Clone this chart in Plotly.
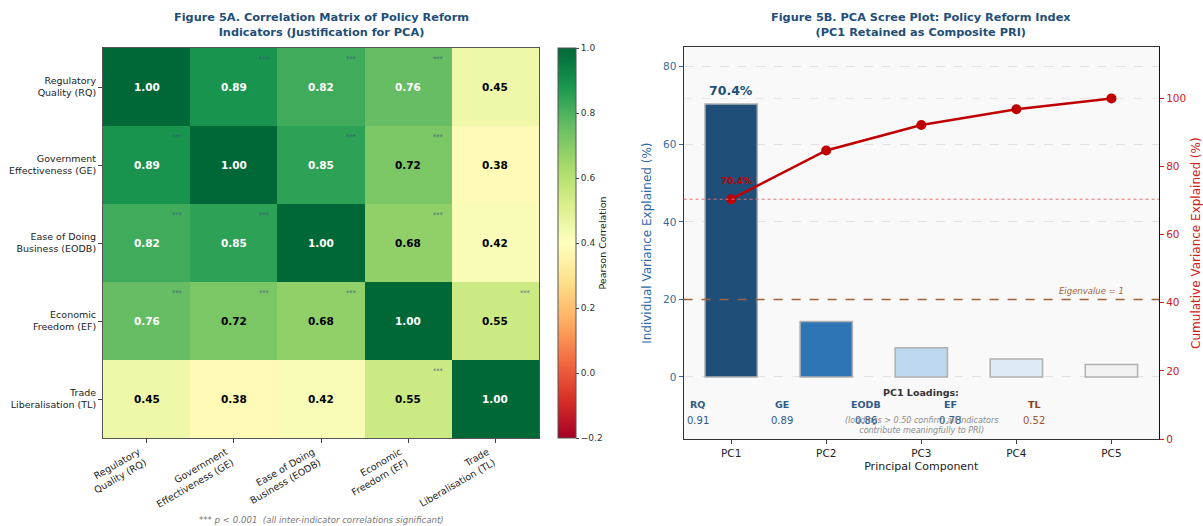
import plotly.graph_objects as go

# ---- Figure 5A data: correlation matrix of policy reform indicators ----
indicator_labels = [
    "Regulatory<br>Quality (RQ)",
    "Government<br>Effectiveness (GE)",
    "Ease of Doing<br>Business (EODB)",
    "Economic<br>Freedom (EF)",
    "Trade<br>Liberalisation (TL)",
]
corr_rq = [1.00, 0.89, 0.82, 0.76, 0.45]
corr_ge = [0.89, 1.00, 0.85, 0.72, 0.38]
corr_eodb = [0.82, 0.85, 1.00, 0.68, 0.42]
corr_ef = [0.76, 0.72, 0.68, 1.00, 0.55]
corr_tl = [0.45, 0.38, 0.42, 0.55, 1.00]
corr_matrix = [corr_rq, corr_ge, corr_eodb, corr_ef, corr_tl]
cbar_ticks = [-0.2, 0.0, 0.2, 0.4, 0.6, 0.8, 1.0]

# ---- Figure 5B data: PCA scree plot ----
components = ["PC1", "PC2", "PC3", "PC4", "PC5"]
indiv_var = [70.4, 14.3, 7.5, 4.6, 3.2]
cum_var = [70.4, 84.7, 92.2, 96.8, 100.0]
loading_codes = ["RQ", "GE", "EODB", "EF", "TL"]
loading_vals = [0.91, 0.89, 0.86, 0.78, 0.52]
eigen_one_pct = 20

bar_colors = ["#1f4e79", "#2e75b6", "#bdd7ee", "#deebf7", "#f2f2f2"]
title_color = "#1f4e79"
font_family = "DejaVu Sans"

W, H = 1203, 526

fig = go.Figure()

# Heatmap
n = len(indicator_labels)
fig.add_trace(go.Heatmap(
    z=corr_matrix,
    x=list(range(n)), y=list(range(n)),
    colorscale="RdYlGn", zmin=-0.2, zmax=1.0,
    xaxis="x", yaxis="y",
    hoverinfo="skip",
    colorbar=dict(
        x=558 / W, xanchor="left", xpad=0, ypad=0,
        y=1 - (48 + 438) / 2 / H, yanchor="middle",
        len=(438 - 48) / H, lenmode="fraction", thickness=18,
        outlinewidth=1, outlinecolor="#555",
        tickvals=cbar_ticks, ticktext=[f"{t:.1f}".replace("-", "\u2212") for t in cbar_ticks],
        ticks="outside", ticklen=3, tickcolor="#444",
        tickfont=dict(size=9, color="#333", family=font_family),
        title=dict(text="Pearson Correlation", side="right",
                   font=dict(size=9.5, color="#222", family=font_family)),
    ),
))

annotations = []
for i, row in enumerate(corr_matrix):
    for j, v in enumerate(row):
        annotations.append(dict(
            x=j, y=i, xref="x", yref="y", text=f"<b>{v:.2f}</b>", showarrow=False,
            xanchor="center", yanchor="middle",
            font=dict(size=10.5, color="white" if v > 0.75 else "black", family=font_family),
        ))
        if i != j and v > 0.5:
            annotations.append(dict(
                x=j + 0.35, y=i - 0.36, xref="x", yref="y", text="***", showarrow=False,
                xanchor="center", yanchor="middle",
                font=dict(size=6.5, color="#3b5a80", family=font_family),
            ))

# Scree bars
fig.add_trace(go.Bar(
    x=list(range(len(components))), y=indiv_var, width=0.55,
    marker=dict(color=bar_colors, line=dict(color="#b0b0b0", width=1.5)),
    xaxis="x2", yaxis="y2", hoverinfo="skip", showlegend=False,
))

# Cumulative variance line
fig.add_trace(go.Scatter(
    x=list(range(len(components))), y=cum_var, mode="lines+markers",
    line=dict(color="#c00000", width=2.5), marker=dict(color="#c00000", size=10),
    xaxis="x2", yaxis="y3", hoverinfo="skip", showlegend=False,
))

shapes = [
    # eigenvalue = 1 threshold
    dict(type="line", xref="x2 domain", yref="y2", x0=0, x1=1, y0=eigen_one_pct, y1=eigen_one_pct,
         line=dict(color="#a0643c", width=1.5, dash="dash")),
    # PC1 cumulative reference
    dict(type="line", xref="x2 domain", yref="y3", x0=0, x1=1, y0=cum_var[0], y1=cum_var[0],
         line=dict(color="#e07070", width=1, dash="dot")),
    dict(type="line", xref="x2 domain", yref="y3", x0=0, x1=1, y0=100, y1=100,
         line=dict(color="#e2e2e2", width=0.8, dash="dash"), layer="below"),
]

annotations += [
    dict(x=0, y=indiv_var[0], xref="x2", yref="y2", text=f"<b>{indiv_var[0]:.1f}%</b>",
         showarrow=False, xanchor="center", yanchor="bottom", yshift=4,
         font=dict(size=12.5, color=title_color, family=font_family)),
    dict(x=0, y=cum_var[0], xref="x2", yref="y3", text=f"<b>{cum_var[0]:.1f}%</b>",
         showarrow=False, xanchor="center", yanchor="bottom", xshift=5, yshift=11,
         font=dict(size=9, color="#c00000", family=font_family)),
    dict(x=0.93, y=eigen_one_pct, xref="x2 domain", yref="y2", text="<i>Eigenvalue = 1</i>",
         showarrow=False, xanchor="right", yanchor="bottom", yshift=1,
         font=dict(size=8.5, color="#a0643c", family=font_family)),
    dict(x=0.5, y=-4.1, xref="x2 domain", yref="y2", text="<b>PC1 Loadings:</b>",
         showarrow=False, xanchor="center", yanchor="middle",
         font=dict(size=9.5, color="#333", family=font_family)),
    dict(x=0.5, y=-12.4, xref="x2 domain", yref="y2",
         text="<i>(loadings > 0.50 confirm all indicators<br>contribute meaningfully to PRI)</i>",
         showarrow=False, xanchor="center", yanchor="middle",
         font=dict(size=8, color="#8a8a8a", family=font_family)),
]
for k, (code, val) in enumerate(zip(loading_codes, loading_vals)):
    is_last = k == len(loading_codes) - 1
    name_col = "#8b4513" if is_last else "#2f5a88"
    val_col = "#a0522d" if is_last else "#2f5a88"
    xf = 0.03 + 0.177 * k
    annotations.append(dict(x=xf, y=-7.0, xref="x2 domain", yref="y2", text=f"<b>{code}</b>",
                            showarrow=False, xanchor="center", yanchor="middle",
                            font=dict(size=9.5, color=name_col, family=font_family)))
    annotations.append(dict(x=xf, y=-11.1, xref="x2 domain", yref="y2", text=f"{val:.2f}",
                            showarrow=False, xanchor="center", yanchor="middle",
                            font=dict(size=10, color=val_col, family=font_family)))

# Panel titles and footnote
annotations += [
    dict(x=321 / W, y=1 - 25 / H, xref="paper", yref="paper",
         text="<b>Figure 5A. Correlation Matrix of Policy Reform<br>Indicators (Justification for PCA)</b>",
         showarrow=False, xanchor="center", yanchor="middle",
         font=dict(size=11.3, color=title_color, family=font_family)),
    dict(x=921 / W, y=1 - 25 / H, xref="paper", yref="paper",
         text="<b>Figure 5B. PCA Scree Plot: Policy Reform Index<br>(PC1 Retained as Composite PRI)</b>",
         showarrow=False, xanchor="center", yanchor="middle",
         font=dict(size=11.3, color=title_color, family=font_family)),
    dict(x=321 / W, y=1 - 520 / H, xref="paper", yref="paper",
         text="<i>*** p < 0.001  (all inter-indicator correlations significant)</i>",
         showarrow=False, xanchor="center", yanchor="middle",
         font=dict(size=8.6, color="#777", family=font_family)),
]

fig.update_layout(
    width=W, height=H,
    margin=dict(l=0, r=0, t=0, b=0, autoexpand=False),
    paper_bgcolor="white",
    plot_bgcolor="#f9f9f9",
    font=dict(family=font_family, color="#222"),
    showlegend=False,
    shapes=shapes,
    annotations=annotations,
    xaxis=dict(
        domain=[103 / W, 539 / W], range=[-0.5, n - 0.5], automargin=False,
        tickvals=list(range(n)), ticktext=indicator_labels, tickangle=-30, ticklabelshift=-8,
        tickfont=dict(size=9.5, color="#222"), ticks="outside", ticklen=4, tickcolor="#444",
        showline=True, linecolor="#555", linewidth=1, mirror=True, showgrid=False, zeroline=False,
    ),
    yaxis=dict(
        domain=[1 - 438 / H, 1 - 48 / H], range=[n - 0.5, -0.5], automargin=False,
        tickvals=list(range(n)), ticktext=indicator_labels,
        tickfont=dict(size=9.5, color="#222"), ticks="outside", ticklen=4, tickcolor="#444",
        showline=True, linecolor="#555", linewidth=1, mirror=True, showgrid=False, zeroline=False,
    ),
    xaxis2=dict(
        domain=[683.6 / W, 1159 / W], anchor="y2", range=[-0.5, 4.5], automargin=False,
        tickvals=list(range(len(components))), ticktext=components,
        tickfont=dict(size=10.5, color="#222"), ticks="outside", ticklen=4, tickcolor="#444",
        title=dict(text="Principal Component", font=dict(size=11, color="#222"), standoff=4),
        showline=True, linecolor="#333", linewidth=1.2, mirror=True, showgrid=False, zeroline=False,
    ),
    yaxis2=dict(
        domain=[1 - 439 / H, 1 - 47.3 / H], anchor="x2", range=[-16, 85], automargin=False,
        tickvals=[0, 20, 40, 60, 80], tickfont=dict(size=10.5, color="#3d6a96"),
        ticks="outside", ticklen=4, tickcolor="#3d6a96",
        title=dict(text="Individual Variance Explained (%)", font=dict(size=12, color="#2e6aa6"), standoff=8),
        showgrid=True, gridcolor="#e2e2e2", gridwidth=0.8, griddash="dash",
        showline=True, linecolor="#333", linewidth=1.2, zeroline=False,
    ),
    yaxis3=dict(
        overlaying="y2", side="right", anchor="x2", range=[0, 115], automargin=False,
        tickvals=[0, 20, 40, 60, 80, 100], tickfont=dict(size=10.5, color="#cc2020"),
        ticks="outside", ticklen=4, tickcolor="#cc2020",
        title=dict(text="Cumulative Variance Explained (%)", font=dict(size=12, color="#cc2020"), standoff=8),
        showgrid=False, showline=True, linecolor="#111", linewidth=1.2, zeroline=False,
    ),
)

fig.write_html("out.html")
